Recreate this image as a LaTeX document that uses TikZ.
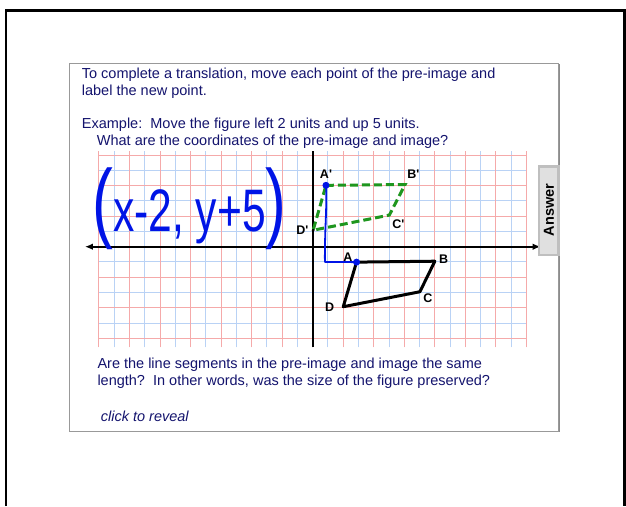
\documentclass[tikz,border=0pt]{standalone}
\usepackage{fontspec}
\setmainfont{Liberation Sans}
\usepackage{xcolor}
\definecolor{slnavy}{RGB}{20,20,110}
\definecolor{slred}{RGB}{245,170,170}
\definecolor{slblue}{RGB}{185,210,245}
\definecolor{slgreen}{RGB}{30,150,30}
\definecolor{slpen}{RGB}{0,20,230}
\definecolor{sltab}{RGB}{224,224,224}
\usepackage{tikz}
\usetikzlibrary{arrows.meta,positioning}
\newcommand{\pr}{\textquotesingle}

\begin{document}
\begin{tikzpicture}[x=1pt,y=-1pt,
  slide/.style={font=\fontsize{14.5}{16.7}\selectfont,text=slnavy,anchor=base west,align=left,inner sep=0pt},
  ptlabel/.style={font=\fontsize{12.5}{12.5}\selectfont\bfseries,inner sep=0pt}]
\useasboundingbox (0,0) rectangle (626,506);
% ---- frame and slide ----
\draw[line width=2.5pt] (6.2,506) -- (6.2,10.3) -- (624.7,10.3) -- (624.7,506);
\fill[black!45] (70.8,64.2) rectangle (559.8,432.2);
\draw[fill=white,draw=black!40] (69.3,62.7) rectangle (558.3,430.7);
% base = last line
\node[slide] (intro) at (81.7,95) {To complete a translation, move each point of the pre-image and\\label the new point.};
\node[slide] (example) at (81.7,145) {Example:\ \ Move the figure left 2 units and up 5 units.\\\hspace{15pt}What are the coordinates of the pre-image and image?};
\node[slide] (question) at (97.3,385) {Are the line segments in the pre-image and image the same\\length?\ \ In other words, was the size of the figure preserved?};
\node[slide,font=\fontsize{14.5}{16.7}\selectfont\itshape] (reveal) at (100.7,421.7) {click to reveal};
% ---- grid ----
\begin{scope}[shift={(312.7,246.7)},x=15.27pt,y=15.27pt]
\foreach \i in {-13,-11,...,13} \draw[slblue,line width=1pt] (\i,-6.59) -- (\i,6.29);
\foreach \j in {-5,-3,...,5} \draw[slblue,line width=1pt] (-14,\j) -- (14,\j);
\foreach \i in {-14,-12,...,14} \draw[slred,line width=1pt] (\i,-6.59) -- (\i,6.29);
\foreach \j in {-6,-4,...,6} \draw[slred,line width=1pt] (-14,\j) -- (14,\j);
\draw[line width=2pt,{Latex[length=8pt,width=6.5pt]}-{Latex[length=8pt,width=6.5pt]}] (-14.92,0) -- (14.93,0);
\draw[line width=2pt] (0,-6.59) -- (0,6.29);
% pre-image
\coordinate (A) at (2.87,-1.01);
\coordinate (B) at (8.0,-0.95);
\coordinate (C) at (7.02,-2.95);
\coordinate (D) at (2.0,-3.93);
% image
\coordinate (Ai) at (0.87,4.02);
\coordinate (Bi) at (6.05,4.07);
\coordinate (Ci) at (5.02,2.07);
\coordinate (Di) at (0.03,1.08);
\draw[line width=3pt,line join=round] (A) -- (B) -- (C) -- (D) -- cycle;
\draw[slgreen,line width=3pt,dash pattern=on 8pt off 4pt] (Ai) -- (Bi) -- (Ci) -- (Di) -- cycle;
% pen stroke
\draw[slpen,line width=1.8pt,line join=round] (Ai) .. controls (0.95,2.6) and (0.78,1.2) .. (0.8,-1.0) -- (A);
\fill[slpen] (Ai) circle (3.5pt);
\fill[slpen] (A) circle (3.5pt);
\fill (Di) circle (1.6pt);
\node[ptlabel,above=6.5pt of Ai] (lAi) {A\pr};
\node[ptlabel,above right=5.7pt and 2pt of Bi] (lBi) {B\pr};
\node[ptlabel,below right=4pt and 2.7pt of Ci] (lCi) {C\pr};
\node[ptlabel,left=4.6pt of Di] (lDi) {D\pr};
\node[ptlabel,above left=0pt and 4pt of A] (lA) {A};
\node[ptlabel,above right=-2.3pt and 4pt of B] (lB) {B};
\node[ptlabel,below right=1.7pt and 3.3pt of C] (lC) {C};
\node[ptlabel,left=9pt of D] (lD) {D};
\end{scope}
% ---- handwriting ----
\node[text=slpen,anchor=base west,inner sep=0pt] (expr) at (92,231)
  {\scalebox{0.71}[1]{\fontsize{88}{88}\selectfont(\fontsize{60}{60}\selectfont x-2, y+5\fontsize{88}{88}\selectfont)}};
% ---- answer tab ----
\draw[fill=sltab,draw=black!25,line width=2.5pt] (539,166.7) rectangle (558.3,255);
\node[rotate=90,font=\fontsize{14.5}{14.5}\selectfont\bfseries,inner sep=0pt] (answer) at (549,210) {Answer};
\end{tikzpicture}
\end{document}
